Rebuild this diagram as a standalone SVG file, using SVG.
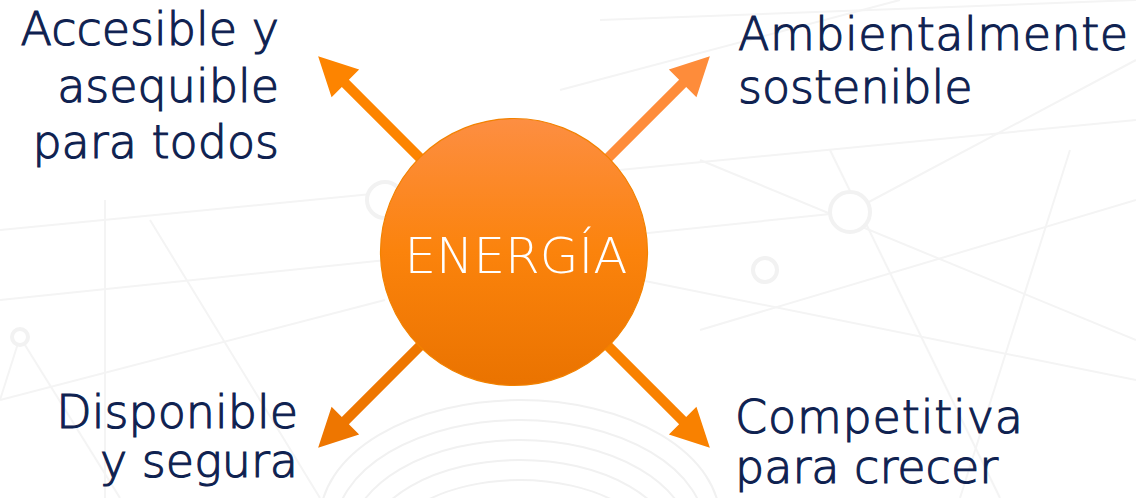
<svg xmlns="http://www.w3.org/2000/svg" width="1136" height="498" viewBox="0 0 1136 498">
  <style>
    .lbl { font-family: "DejaVu Sans", "Liberation Sans", sans-serif; font-size: 46px; font-weight: 200; fill: #0E2150; stroke: #0E2150; stroke-width: 1.1px; }
    .ctr { font-family: "DejaVu Sans", "Liberation Sans", sans-serif; font-size: 50px; fill: #FFFFFF; font-weight: 200; }
    .bgl { stroke: #F4F4F4; stroke-width: 2; fill: none; }
    .bgn { stroke: #F2F2F2; stroke-width: 4; fill: #FFFFFF; }
    .mesh { stroke: #F1F1F1; stroke-width: 2; fill: none; }
  </style>
  <defs>
    <linearGradient id="gCircle" x1="0" y1="0" x2="0" y2="1">
      <stop offset="0" stop-color="#FD8E42"/>
      <stop offset="0.5" stop-color="#FB830C"/>
      <stop offset="1" stop-color="#EA7300"/>
    </linearGradient>
    <path id="arrowShape" d="M0,-5 L238.5,-5 L238.5,-19.5 L277,0 L238.5,19.5 L238.5,5 L0,5 Z"/>
  </defs>
  <rect width="1136" height="498" fill="#FFFFFF"/>

  <g id="background">
    <line class="bgl" x1="0" y1="230" x2="1136" y2="120"/>
    <line class="bgl" x1="0" y1="300" x2="850" y2="212"/>
    <line class="bgl" x1="700" y1="160" x2="1136" y2="340"/>
    <line class="bgl" x1="640" y1="280" x2="1136" y2="380"/>
    <line class="bgl" x1="830" y1="150" x2="1000" y2="498"/>
    <line class="bgl" x1="1070" y1="150" x2="960" y2="498"/>
    <line class="bgl" x1="850" y1="212" x2="1136" y2="60"/>
    <line class="bgl" x1="700" y1="330" x2="1136" y2="200"/>
    <line class="bgl" x1="105" y1="200" x2="105" y2="498"/>
    <line class="bgl" x1="150" y1="220" x2="320" y2="498"/>
    <line class="bgl" x1="20" y1="337" x2="120" y2="498"/>
    <line class="bgl" x1="20" y1="337" x2="0" y2="400"/>
    <line class="bgl" x1="0" y1="400" x2="385" y2="300"/>
    <line class="bgl" x1="600" y1="20" x2="1136" y2="0"/>
    <line class="bgl" x1="560" y1="90" x2="900" y2="0"/>
    <circle class="bgn" cx="850" cy="212" r="20"/>
    <circle class="bgn" cx="765" cy="270" r="12"/>
    <circle class="bgn" cx="20" cy="337" r="8"/>
    <circle class="bgn" cx="385" cy="200" r="18"/>
    <ellipse class="mesh" cx="520" cy="520" rx="200" ry="120"/>
    <ellipse class="mesh" cx="520" cy="530" rx="185" ry="110"/>
    <ellipse class="mesh" cx="520" cy="540" rx="170" ry="100"/>
    <ellipse class="mesh" cx="520" cy="550" rx="155" ry="90"/>
    <ellipse class="mesh" cx="520" cy="560" rx="140" ry="80"/>
  </g>

  <g id="connectors">
    <use href="#arrowShape" fill="#FD8400" transform="translate(514,252) rotate(-135)"/>
    <use href="#arrowShape" fill="#FE8C3A" transform="translate(514,252) rotate(-45)"/>
    <use href="#arrowShape" fill="#EE7600" transform="translate(514,252) rotate(135)"/>
    <use href="#arrowShape" fill="#F98100" transform="translate(514,252) rotate(45)"/>
  </g>

  <g id="node-energia">
    <circle cx="514" cy="252" r="133.5" fill="url(#gCircle)" stroke="#F28200" stroke-width="1.2"/>
    <text class="ctr" x="516" y="273" text-anchor="middle">ENERGÍA</text>
  </g>

  <g id="node-accesible">
    <text class="lbl" text-anchor="end" x="279" y="45">Accesible y</text>
    <text class="lbl" text-anchor="end" x="279" y="102">asequible</text>
    <text class="lbl" text-anchor="end" x="279" y="158">para todos</text>
  </g>

  <g id="node-ambiental">
    <text class="lbl" x="738" y="50" textLength="390" lengthAdjust="spacing">Ambientalmente</text>
    <text class="lbl" x="738" y="103">sostenible</text>
  </g>

  <g id="node-disponible">
    <text class="lbl" text-anchor="end" x="298" y="428">Disponible</text>
    <text class="lbl" text-anchor="end" x="298" y="477">y segura</text>
  </g>

  <g id="node-competitiva">
    <text class="lbl" x="735" y="433" textLength="288" lengthAdjust="spacing">Competitiva</text>
    <text class="lbl" x="735" y="483">para crecer</text>
  </g>
</svg>
